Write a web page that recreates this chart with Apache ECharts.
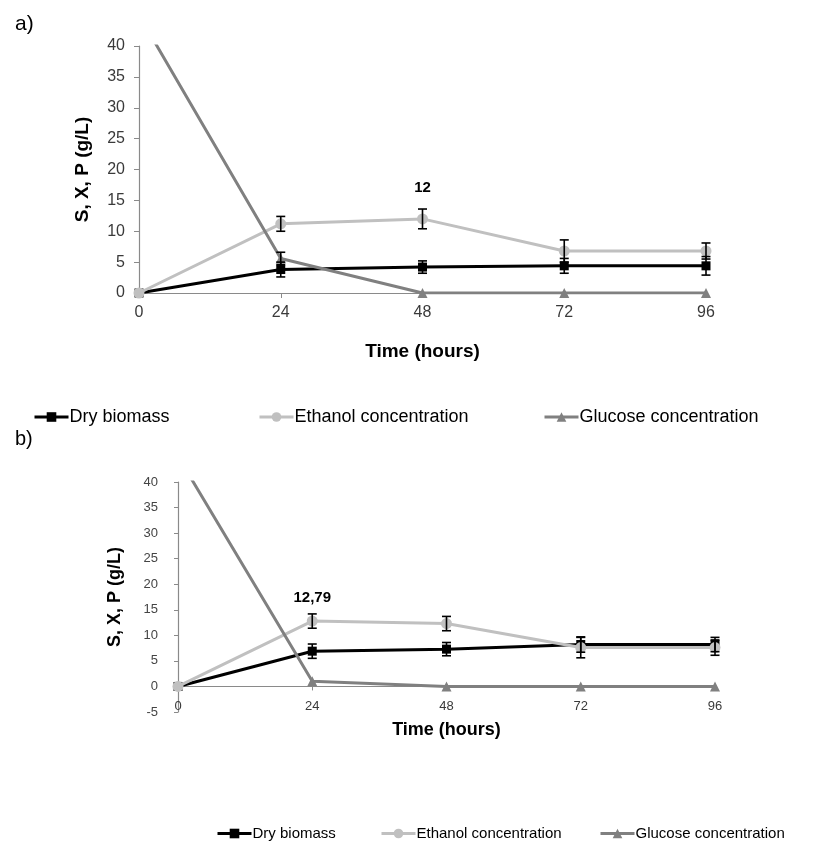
<!DOCTYPE html>
<html>
<head>
<meta charset="utf-8">
<script src="https://cdn.jsdelivr.net/npm/echarts@6/dist/echarts.min.js"></script>
<style>
  html, body { margin: 0; padding: 0; background: #fff; }
  #chart { width: 818px; height: 847px; }
</style>
</head>
<body>
<div id="chart"></div>
<script>
// Sampling times (hours)
const hours = [0, 24, 48, 72, 96];
const xTicks = [0, 24, 48, 72, 96];

// Panel a)
const biomassA = [0, 3.8, 4.2, 4.4, 4.4];
const ethanolA = [0, 11.2, 12, 6.8, 6.8];
const glucoseA = [45, 5.6, 0, 0, 0];
const biomassErrA = [0, 1.2, 1.0, 1.2, 1.5];
const ethanolErrA = [0, 1.2, 1.6, 1.8, 1.3];
const glucoseErrA = [0, 1.0, 0, 0, 0];

// Panel b)
const biomassB = [0, 6.9, 7.3, 8.2, 8.2];
const ethanolB = [0, 12.79, 12.3, 7.6, 7.6];
const glucoseB = [45, 1.0, 0, 0, 0];
const biomassErrB = [0, 1.4, 1.3, 1.5, 1.4];
const ethanolErrB = [0, 1.4, 1.4, 2.0, 1.5];

const names = ['Dry biomass', 'Ethanol concentration', 'Glucose concentration'];
const colors = ['#000000', '#c0c0c0', '#808080'];
const symbols = ['rect', 'circle', 'triangle'];
const symbolSizes = [9, 11, 10];
const FONT = '"Liberation Sans", Arial, sans-serif';

// Value pairs for a line series; optional label on one point
function pairs(values, labelIdx, labelText, labelDist) {
  return values.map((v, i) => {
    const item = { value: [hours[i], v] };
    if (i === labelIdx) {
      item.label = {
        show: true, position: 'top', distance: labelDist,
        formatter: labelText, color: '#000', fontWeight: 'bold',
        fontSize: 15, fontFamily: FONT
      };
    }
    return item;
  });
}

function lineSeries(k, values, axisIdx, labelIdx, labelText, labelDist) {
  return {
    type: 'line', name: names[k],
    xAxisIndex: axisIdx, yAxisIndex: axisIdx,
    data: pairs(values, labelIdx, labelText, labelDist),
    symbol: symbols[k], symbolSize: symbolSizes[k],
    showSymbol: true, clip: true,
    lineStyle: { color: colors[k], width: 3 },
    itemStyle: { color: colors[k] },
    emphasis: { disabled: true },
    z: 3 + k, animation: false
  };
}

// Vertical error bars with short caps
function errorSeries(values, errs, axisIdx) {
  return {
    type: 'custom', xAxisIndex: axisIdx, yAxisIndex: axisIdx,
    data: values.map((v, i) => [hours[i], v, errs[i]]).filter(d => d[2] > 0),
    renderItem: function (params, api) {
      const x = api.value(0), y = api.value(1), e = api.value(2);
      const hi = api.coord([x, y + e]);
      const lo = api.coord([x, y - e]);
      const w = 4.5;
      const st = { stroke: '#000', lineWidth: 1.6 };
      return {
        type: 'group',
        children: [
          { type: 'line', shape: { x1: hi[0], y1: hi[1], x2: lo[0], y2: lo[1] }, style: st },
          { type: 'line', shape: { x1: hi[0] - w, y1: hi[1], x2: hi[0] + w, y2: hi[1] }, style: st },
          { type: 'line', shape: { x1: lo[0] - w, y1: lo[1], x2: lo[0] + w, y2: lo[1] }, style: st }
        ]
      };
    },
    z: 10, silent: true, animation: false
  };
}

function legendItem(k, left, top, size) {
  return {
    data: [names[k]], left: left, top: top,
    itemWidth: 34, itemHeight: 12, itemGap: 0,
    lineStyle: { width: 3 },
    textStyle: { color: '#000', fontSize: size, fontFamily: FONT, padding: [0, 0, 0, -4] },
    selectedMode: false
  };
}

const axisLineStyle = { lineStyle: { color: '#8a8a8a', width: 1.2 } };

const option = {
  backgroundColor: '#ffffff',
  animation: false,
  title: [
    { text: 'a)', left: 10, top: 9, textStyle: { fontSize: 21, fontWeight: 'normal', color: '#000', fontFamily: FONT } },
    { text: 'b)', left: 10, top: 424, textStyle: { fontSize: 20, fontWeight: 'normal', color: '#000', fontFamily: FONT } }
  ],
  legend: [
    legendItem(0, 28, 403, 18),
    legendItem(1, 253, 403, 18),
    legendItem(2, 538, 403, 18),
    legendItem(0, 211, 821, 15),
    legendItem(1, 375, 821, 15),
    legendItem(2, 594, 821, 15)
  ],
  grid: [
    { left: 139, top: 46, width: 567, height: 247 },
    { left: 178, top: 482, width: 537, height: 230 }
  ],
  xAxis: [
    {
      gridIndex: 0, type: 'value', min: xTicks[0], max: xTicks[xTicks.length - 1], interval: 24,
      axisLine: axisLineStyle,
      axisTick: { show: true, length: 5, lineStyle: { color: '#8a8a8a' } },
      splitLine: { show: false },
      axisLabel: { color: '#3a3a3a', fontSize: 16, fontFamily: FONT, margin: 12 },
      name: 'Time (hours)', nameLocation: 'middle', nameGap: 49,
      nameTextStyle: { color: '#000', fontSize: 19, fontWeight: 'bold', fontFamily: FONT }
    },
    {
      gridIndex: 1, type: 'value', min: xTicks[0], max: xTicks[xTicks.length - 1], interval: 24,
      axisLine: axisLineStyle,
      axisTick: { show: true, length: 4, lineStyle: { color: '#8a8a8a' } },
      splitLine: { show: false },
      axisLabel: { color: '#3a3a3a', fontSize: 13, fontFamily: FONT, margin: -12 },
      name: 'Time (hours)', nameLocation: 'middle', nameGap: 9,
      nameTextStyle: { color: '#000', fontSize: 18, fontWeight: 'bold', fontFamily: FONT }
    }
  ],
  yAxis: [
    {
      gridIndex: 0, type: 'value', min: 0, max: 40, interval: 5,
      axisLine: { show: true, lineStyle: { color: '#8a8a8a', width: 1.2 } },
      axisTick: { show: true, length: 5, lineStyle: { color: '#8a8a8a' } },
      splitLine: { show: false },
      axisLabel: { color: '#3a3a3a', fontSize: 16, fontFamily: FONT, margin: 14 },
      name: 'S, X, P (g/L)', nameLocation: 'middle', nameGap: 47,
      nameTextStyle: { color: '#000', fontSize: 19, fontWeight: 'bold', fontFamily: FONT }
    },
    {
      gridIndex: 1, type: 'value', min: -5, max: 40, interval: 5,
      axisLine: { show: true, lineStyle: { color: '#8a8a8a', width: 1.2 } },
      axisTick: { show: true, length: 4, lineStyle: { color: '#8a8a8a' } },
      splitLine: { show: false },
      axisLabel: { color: '#444', fontSize: 13, fontFamily: FONT, margin: 20 },
      name: 'S, X, P (g/L)', nameLocation: 'middle', nameGap: 54,
      nameTextStyle: { color: '#000', fontSize: 18, fontWeight: 'bold', fontFamily: FONT }
    }
  ],
  series: [
    lineSeries(0, biomassA, 0),
    lineSeries(1, ethanolA, 0, 2, '12', 18),
    lineSeries(2, glucoseA, 0),
    errorSeries(biomassA, biomassErrA, 0),
    errorSeries(ethanolA, ethanolErrA, 0),
    errorSeries(glucoseA, glucoseErrA, 0),
    lineSeries(0, biomassB, 1),
    lineSeries(1, ethanolB, 1, 1, '12,79', 10),
    lineSeries(2, glucoseB, 1),
    errorSeries(biomassB, biomassErrB, 1),
    errorSeries(ethanolB, ethanolErrB, 1)
  ]
};

const chart = echarts.init(document.getElementById('chart'), null, { renderer: 'canvas' });
chart.setOption(option);
</script>
</body>
</html>
